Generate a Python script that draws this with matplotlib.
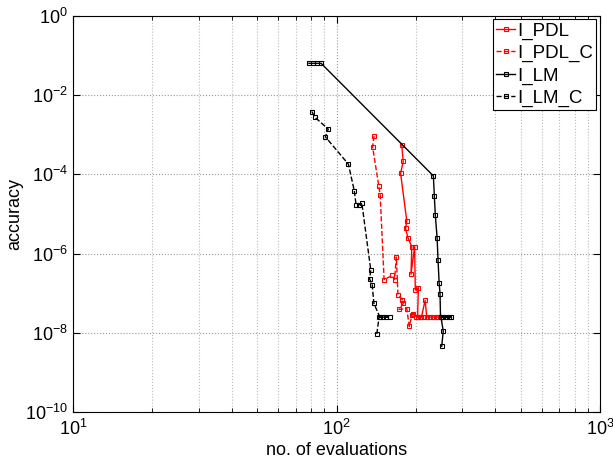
import numpy as np
import matplotlib
matplotlib.use('Agg')
import matplotlib.pyplot as plt
from matplotlib.ticker import LogLocator, NullFormatter, NullLocator

plt.rcParams['font.family'] = ['Liberation Sans', 'DejaVu Sans']
plt.rcParams['mathtext.default'] = 'regular'

# I_PDL (solid red)
pdl_x = [176.8, 179, 175, 184.7, 182.7, 186.6, 193, 191.6, 197.8, 199, 204.4,
         203, 210, 216.7, 220, 226, 232, 238, 243]
pdl_y = [5.4e-4, 2.1e-4, 1.05e-4, 6.7e-6, 4.3e-6, 2.5e-6, 1.47e-6, 3e-7, 1.47e-6,
         1.2e-7, 1.38e-7, 2.5e-8, 2.5e-8, 6.6e-8, 2.5e-8, 2.5e-8, 2.5e-8, 2.5e-8, 2.5e-8]

# I_PDL_C (dashed red)
pdlc_x = [138.8, 137, 144.6, 146.4, 151.5, 162.4, 166, 168.6, 171, 177.6, 179,
          172.6, 184.7, 188.7, 193.5, 195, 200, 207, 215]
pdlc_y = [9.2e-4, 5e-4, 5.1e-5, 3e-5, 2.2e-7, 2.8e-7, 2.2e-7, 8.2e-7, 9.2e-8, 6.9e-8, 5.5e-8,
          3.9e-8, 4.1e-8, 1.46e-8, 2.8e-8, 3e-8, 2.5e-8, 2.5e-8, 2.5e-8]

# I_LM (solid black)
lm_x = [78.6, 81.7, 84.6, 87.4, 233, 235, 237, 240.7, 242.7, 245, 247,
        248, 254, 260, 266, 272, 249, 254, 250.6]
lm_y = [0.0628, 0.0628, 0.0628, 0.0628, 9.1e-5, 2.8e-5, 9.3e-6, 2.5e-6, 6.8e-7, 1.85e-7, 9.4e-8,
        2.5e-8, 2.5e-8, 2.5e-8, 2.5e-8, 2.5e-8, 2.5e-8, 1.1e-8, 4.6e-9]

# I_LM_C (dashed black)
lmc_x = [80.7, 82.5, 93, 90.7, 110.9, 116.8, 118.6, 122, 124.7, 134.9, 133.4,
         136.5, 138.6, 146, 150, 154, 159, 145, 142.1]
lmc_y = [3.8e-3, 2.8e-3, 1.38e-3, 8.8e-4, 1.8e-4, 3.8e-5, 1.7e-5, 1.7e-5, 1.9e-5, 3.8e-7, 2.3e-7,
         1.65e-7, 5.5e-8, 2.5e-8, 2.5e-8, 2.5e-8, 2.5e-8, 2.5e-8, 9.2e-9]

fig = plt.figure(figsize=(6.13, 4.61), dpi=100)
ax = fig.add_axes([0.119, 0.106, 0.860, 0.860])

mk = dict(marker='s', markersize=3.5, markerfacecolor='none', markeredgewidth=0.8)
ax.plot(pdl_x, pdl_y, '-', color='red', linewidth=1.0, label='I_PDL', **mk)
ax.plot(pdlc_x, pdlc_y, '--', color='red', linewidth=1.0, label='I_PDL_C', **mk)
ax.plot(lm_x, lm_y, '-', color='black', linewidth=1.0, label='I_LM', **mk)
ax.plot(lmc_x, lmc_y, '--', color='black', linewidth=1.0, label='I_LM_C', **mk)

ax.set_xscale('log')
ax.set_yscale('log')
ax.set_xlim(10, 1000)
ax.set_ylim(1e-10, 1)
ax.set_yticks([1e-10, 1e-8, 1e-6, 1e-4, 1e-2, 1])
ax.yaxis.set_minor_locator(NullLocator())
ax.xaxis.set_minor_locator(LogLocator(base=10, subs=np.arange(2, 10), numticks=20))
ax.xaxis.set_minor_formatter(NullFormatter())

ax.grid(True, which='major', linestyle=':', color='#999999', linewidth=0.8)
ax.grid(True, which='minor', axis='x', linestyle=':', color='#bbbbbb', linewidth=0.8)
ax.tick_params(which='both', direction='in', top=True, right=True, labelsize=13)
ax.tick_params(which='major', length=5)
ax.tick_params(which='minor', length=3)
ax.tick_params(axis='x', pad=5)

ax.set_xlabel('no. of evaluations', fontsize=13, labelpad=2)
ax.set_ylabel('accuracy', fontsize=13, labelpad=1)

leg = ax.legend(loc='upper right', fontsize=13.5, fancybox=False, framealpha=1,
                edgecolor='black', borderaxespad=0.2, handlelength=1.0,
                handletextpad=0.15, borderpad=0.15, labelspacing=0.28)
leg.get_frame().set_linewidth(0.8)

fig.savefig('out.png', dpi=100)
